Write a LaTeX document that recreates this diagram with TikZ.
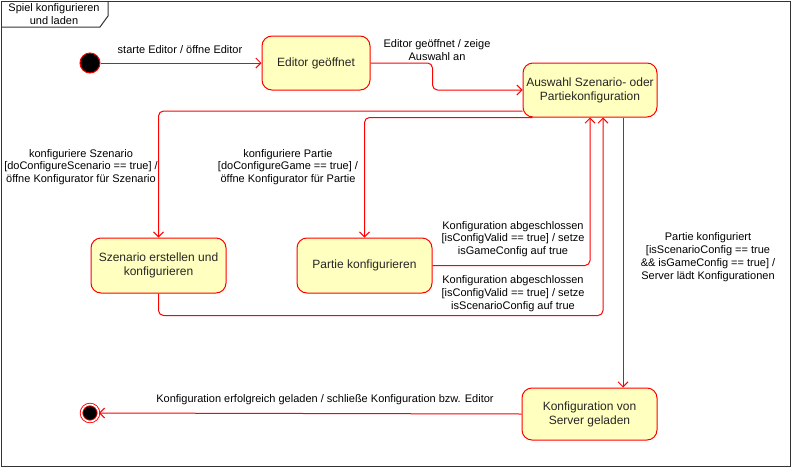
\documentclass[tikz,border=0pt]{standalone}
\usepackage{fontspec}
\setmainfont{Liberation Sans}
\usetikzlibrary{arrows.meta}
\definecolor{statefill}{HTML}{FFFFC0}
\definecolor{statered}{HTML}{FF0000}
\begin{document}
\begin{tikzpicture}[x=1pt,y=-1pt,
  state/.style={draw=statered,fill=statefill,rounded corners=10pt,line width=1pt,
    minimum width=135pt,minimum height=54pt,align=center,inner sep=2pt,
    font=\fontsize{12}{14}\selectfont,text=black!85},
  trans/.style={draw=statered,line width=1pt,rounded corners=5pt,
    -{Straight Barb[length=5pt,width=10pt]}},
  lbl/.style={align=center,inner sep=0pt,font=\fontsize{11}{12.8}\selectfont}]
\useasboundingbox (0,0) rectangle (793,469);
\draw[line width=1pt,black!80] (1,1) rectangle (790,466);
\draw[line width=1pt,black!80] (1,27) -- (100,27) -- (108,16) -- (108,1);
\node[lbl] (titel) at (54,14) {Spiel konfigurieren\\und laden};
\node[circle,draw=statered,fill=black,minimum size=20pt,inner sep=0pt,line width=1pt] (start) at (90,63) {};
\node[circle,draw=statered,double=white,double distance=1.6pt,fill=black,minimum size=17pt,inner sep=0pt,line width=0.9pt] (ende) at (90,413) {};
\node[state,minimum width=108pt] (editor) at (316,63) {Editor geöffnet};
\node[state,minimum width=134pt] (auswahl) at (590,90) {Auswahl Szenario- oder\\Partiekonfiguration};
\node[state,minimum height=55pt] (szenario) at (158.5,265.5) {Szenario erstellen und\\konfigurieren};
\node[state,minimum height=55pt] (partie) at (364.5,265.5) {Partie konfigurieren};
\node[state,minimum height=52pt] (server) at (589.5,414) {Konfiguration von\\Server geladen};
\draw[trans] (start) -- (editor);
\node[lbl] (l1) at (180,50) {starte Editor / öffne Editor};
\draw[trans] (editor.east) -- ++(62,0) |- (auswahl.west);
\node[lbl] (l2) at (437,50) {Editor geöffnet / zeige\\Auswahl an};
\draw[trans] ([yshift=-21pt]auswahl.west) -| (szenario.north);
\node[lbl] (l3) at (81,167) {konfiguriere Szenario\\{[doConfigureScenario == true]} /\\öffne Konfigurator für Szenario};
\draw[trans] ([xshift=10pt]auswahl.south west) -| (partie.north);
\node[lbl] (l4) at (288,167) {konfiguriere Partie\\{[doConfigureGame == true]} /\\öffne Konfigurator für Partie};
\draw[trans] (partie.east) -| (auswahl.south);
\node[lbl] (l5) at (513,239) {Konfiguration abgeschlossen\\{[isConfigValid == true]} / setze\\isGameConfig auf true};
\draw[trans] (szenario.south) -- ++(0,22) -| ([xshift=13pt]auswahl.south);
\node[lbl] (l6) at (513,293.5) {Konfiguration abgeschlossen\\{[isConfigValid == true]} / setze\\isScenarioConfig auf true};
\draw[trans] ([xshift=33pt]auswahl.south) -- ([xshift=33.5pt]server.north);
\node[lbl] (l7) at (708,257) {Partie konfiguriert\\{[isScenarioConfig == true}\\\&\& isGameConfig == true] /\\Server lädt Konfigurationen};
\draw[trans] (server.west) -- (ende);
\node[lbl] (l8) at (325,400) {Konfiguration erfolgreich geladen / schließe Konfiguration bzw. Editor};
\end{tikzpicture}
\end{document}
